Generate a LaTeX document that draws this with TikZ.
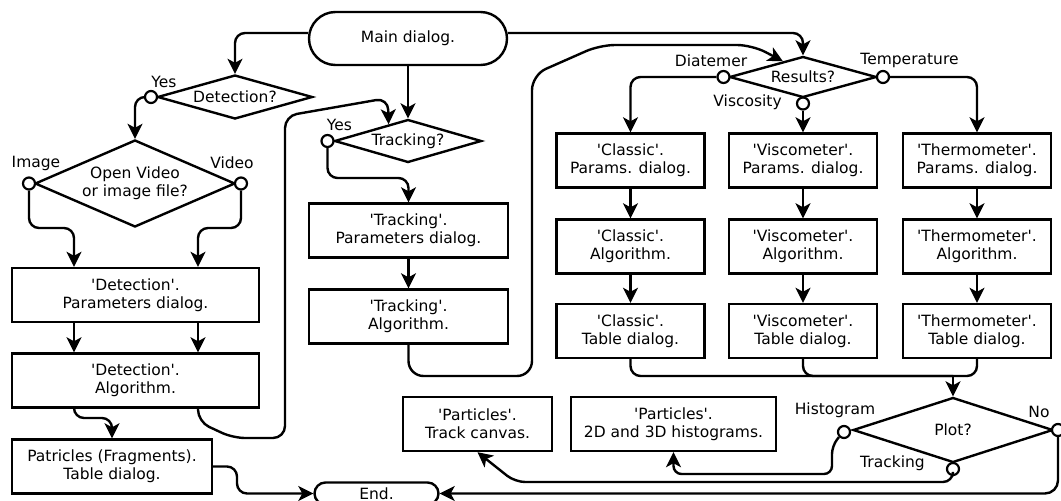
\documentclass[tikz,border=0pt]{standalone}
\usepackage{fontspec}
\setmainfont{DejaVu Sans}[Ligatures=TeXOff]
\usetikzlibrary{shapes.geometric,arrows.meta,calc,positioning}

\begin{document}
\begin{tikzpicture}[
    x=1pt, y=-1pt,
    font=\fontsize{15.5}{18}\selectfont,
    line width=2.4pt,
    box/.style={rectangle, draw, minimum width=148pt, minimum height=54pt, inner sep=0pt, align=center},
    decision/.style={diamond, draw, inner sep=0pt, align=center},
    terminal/.style={rectangle, draw, rounded corners=#1, inner sep=0pt},
    port/.style={circle, draw, fill=white, minimum size=12pt, inner sep=0pt, line width=2.2pt},
    tag/.style={inner sep=0pt},
    arrow/.style={-{Stealth[length=15pt,width=15pt,inset=4pt]}, rounded corners=10pt},
    link/.style={rounded corners=10pt}
]
    \useasboundingbox (0,0) rectangle (1061,501);

    % Main dialog
    \node[terminal=26.5pt, minimum width=198pt, minimum height=53pt] (main) at (408,38.5) {Main dialog.};

    % Detection
    \node[decision, minimum width=155pt, minimum height=44pt, shape aspect=3.5] (detq) at (235,97) {Detection?};
    \node[port] (detyes) at (151,97) {};
    \node[tag, above=1pt of detyes, xshift=13pt] (detyestag) {Yes};

    \node[decision, minimum width=200pt, minimum height=87pt, shape aspect=2.3] (openq) at (135,183.5) {Open Video\\or image file?};
    \node[port] (openimg) at (29,183.5) {};
    \node[port] (openvid) at (241,183.5) {};
    \node[tag, above=4.5pt of openimg, xshift=7pt] (imgtag) {Image};
    \node[tag, above=6pt of openvid, xshift=-9pt] (vidtag) {Video};

    \node[box, minimum width=247pt] (detpar) at (135.5,295) {'Detection'.\\Parameters dialog.};
    \node[box, minimum width=247pt] (detalg) at (135.5,380.5) {'Detection'.\\Algorithm.};
    \node[box, minimum width=200pt] (dettab) at (112,466.5) {Patricles (Fragments).\\Table dialog.};

    % End
    \node[terminal=11pt, minimum width=124pt, minimum height=22pt] (end) at (376.5,493.5) {End.};

    % Tracking
    \node[decision, minimum width=147pt, minimum height=43pt, shape aspect=3.4] (trq) at (408,141) {Tracking?};
    \node[port] (tryes) at (327.5,141) {};
    \node[tag, above=2pt of tryes, xshift=12pt] (tryestag) {Yes};

    \node[box, minimum width=199pt] (trpar) at (408.5,230.5) {'Tracking'.\\Parameters dialog.};
    \node[box, minimum width=199pt] (tralg) at (408.5,316.5) {'Tracking'.\\Algorithm.};

    % Results
    \node[decision, minimum width=147pt, minimum height=41pt, shape aspect=3.6] (resq) at (803,77) {Results?};
    \node[port] (resdia) at (723.5,77) {};
    \node[port] (restem) at (883,77) {};
    \node[port] (resvis) at (803,103.5) {};
    \node[tag, above=2pt of resdia, xshift=-12.5pt] (diatag) {Diatemer};
    \node[tag, above=0.5pt of restem, xshift=26.5pt] (temtag) {Temperature};
    \node[tag, left=13pt of resvis, yshift=1.5pt] (vistag) {Viscosity};

    \node[box] (clpar) at (630.5,160.5) {'Classic'.\\Params. dialog.};
    \node[box] (clalg) at (630.5,246.5) {'Classic'.\\Algorithm.};
    \node[box] (cltab) at (630.5,331) {'Classic'.\\Table dialog.};

    \node[box] (vipar) at (803,160.5) {'Viscometer'.\\Params. dialog.};
    \node[box] (vialg) at (803,246.5) {'Viscometer'.\\Algorithm.};
    \node[box] (vitab) at (803,331) {'Viscometer'.\\Table dialog.};

    \node[box] (thpar) at (977,160.5) {'Thermometer'.\\Params. dialog.};
    \node[box] (thalg) at (977,246.5) {'Thermometer'.\\Algorithm.};
    \node[box] (thtab) at (977,331) {'Thermometer'.\\Table dialog.};

    % Plot
    \node[decision, minimum width=200pt, minimum height=65pt, shape aspect=3.1] (plotq) at (953,430) {Plot?};
    \node[port] (plothist) at (844,432) {};
    \node[port] (plotno) at (1058,430) {};
    \node[port] (plottr) at (953,469) {};
    \node[tag, above=5.5pt of plothist, xshift=-9pt] (histag) {Histogram};
    \node[tag, above=4pt of plotno, xshift=-19pt] (notag) {No};
    \node[tag, left=20pt of plottr, yshift=6pt] (trtag) {Tracking};

    \node[box, minimum width=149pt] (ptrack) at (477.5,424) {'Particles'.\\Track canvas.};
    \node[box, minimum width=205pt] (phist) at (673.5,424) {'Particles'.\\2D and 3D histograms.};

    % Connectors
    \draw[arrow] ([yshift=5.5pt]main.west) -| (detq.north);
    \draw[arrow] ([yshift=5.5pt]main.east) -| (resq.north);
    \draw[arrow] (main) -- (trq);

    \draw[arrow] (detyes.west) -| (openq.north);
    \draw[arrow] (openimg.south) |- (74,228) -- ([xshift=-61.5pt]detpar.north);
    \draw[arrow] (openvid.south) |- (198,228) -- ([xshift=62.5pt]detpar.north);
    \draw[arrow] ([xshift=-61.5pt]detpar.south) -- ([xshift=-61.5pt]detalg.north);
    \draw[arrow] ([xshift=62.5pt]detpar.south) -- ([xshift=62.5pt]detalg.north);
    \draw[arrow] ([xshift=-61.5pt]detalg.south) |- (112,418) -- (dettab.north);
    \draw[arrow] (dettab.east) -- (237,466.5) |- (end.west);
    \draw[arrow, rounded corners=12pt] ([xshift=62.5pt]detalg.south) -- ++(0,13) -- (233,438) -- (285,438) -- (285,116) -- (388,98) -- ($(trq.west)!0.74!(trq.north)$);

    \draw[arrow] (tryes.south) |- (408.5,178) -- (trpar.north);
    \draw[arrow] (trpar) -- (tralg);
    \draw[arrow, rounded corners=15pt] (tralg.south) |- (532,376) -- (532,75) -- (600,45) -- (752,45) -- ($(resq.west)!0.73!(resq.north)$);

    \draw[arrow] (resdia.west) -| (clpar.north);
    \draw[arrow] (resvis) -- (vipar);
    \draw[arrow] (restem.east) -| (thpar.north);

    \draw[arrow] (clpar) -- (clalg);
    \draw[arrow] (clalg) -- (cltab);
    \draw[arrow] (vipar) -- (vialg);
    \draw[arrow] (vialg) -- (vitab);
    \draw[arrow] (thpar) -- (thalg);
    \draw[arrow] (thalg) -- (thtab);

    \coordinate (merge) at (953,376);
    \draw[link] (cltab.south) |- (merge);
    \draw[link] (vitab.south) |- (merge);
    \draw[link] (thtab.south) |- (merge);
    \draw[arrow] (merge) -- (plotq.north);

    \draw[arrow, rounded corners=8pt] (plothist.south west) -- (832,446) -- (832,474) -| (phist.south);
    \draw[arrow] (plottr.south) |- (515,482) -- (ptrack.south);
    \draw[arrow, rounded corners=13pt] (plotno.south) |- (end.east);
\end{tikzpicture}
\end{document}
